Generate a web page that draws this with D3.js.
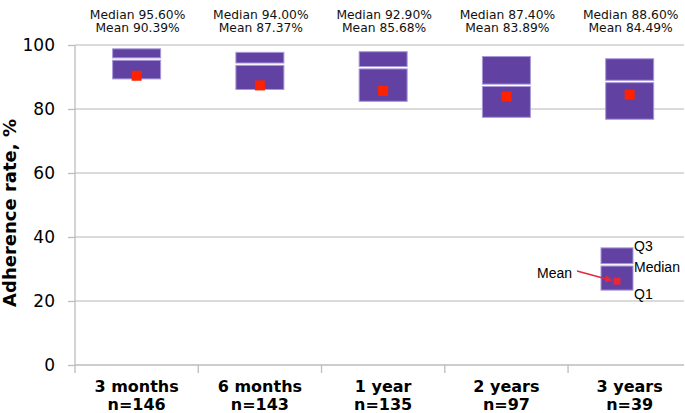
<!DOCTYPE html>
<html><head><meta charset="utf-8">
<script src="https://cdn.jsdelivr.net/npm/d3@7/dist/d3.min.js"></script>
<style>body{margin:0;background:#fff}svg{display:block}</style>
</head><body>
<svg id="c" width="685" height="413"></svg>
<script>
const categories = ["3 months", "6 months", "1 year", "2 years", "3 years"];
const counts = ["n=146", "n=143", "n=135", "n=97", "n=39"];
const q3 = [98.8, 97.7, 97.9, 96.4, 95.7];
const median = [95.6, 94.0, 92.9, 87.4, 88.6];
const mean = [90.39, 87.37, 85.68, 83.89, 84.49];
const q1 = [89.4, 86.1, 82.4, 77.4, 76.8];
const yTicks = [0, 20, 40, 60, 80, 100];
// legend sample box values
const legendBox = {q3: 36.6, median: 31.3, q1: 23.4, mean: 26.2};

const svg = d3.select("#c");
const x = d3.scaleBand().domain(categories).range([75, 691.3]).padding(0);
const y = d3.scaleLinear().domain([0, 100]).range([365, 45]);

const fill = "#6141a2", edge = "#a898d8", red = "#ff2200", grid = "#cfcfcf";

// gridlines
svg.append("g").selectAll("line").data(yTicks.filter(d => d > 0)).join("line")
  .attr("x1", 75).attr("x2", 684).attr("y1", d => y(d)).attr("y2", d => y(d))
  .attr("stroke", grid).attr("stroke-width", 1.6);

// y axis
const ya = svg.append("g").attr("transform", "translate(75,0)")
  .call(d3.axisLeft(y).tickValues(yTicks).tickSize(7).tickPadding(13));
ya.select(".domain").attr("stroke", "#bdbdbd").attr("stroke-width", 1.3).attr("d", "M0,365V45");
ya.selectAll(".tick line").attr("stroke", "#bdbdbd").attr("stroke-width", 1.3);
ya.selectAll(".tick text").attr("font-family", "DejaVu Sans").attr("font-size", 17).attr("fill", "#000");

// x axis
const xa = svg.append("g").attr("transform", "translate(0,365)")
  .call(d3.axisBottom(x).tickSize(0).tickFormat(""));
xa.select(".domain").attr("stroke", "#bdbdbd").attr("stroke-width", 1.3).attr("d", "M75,0H684");
const edges = categories.map(c => x(c));
svg.append("g").selectAll("line").data(edges).join("line")
  .attr("x1", d => d).attr("x2", d => d).attr("y1", 365).attr("y2", 373)
  .attr("stroke", "#bdbdbd").attr("stroke-width", 1.3);

const labels = svg.append("g").selectAll("text").data(categories).join("text")
  .attr("x", d => x(d) + x.bandwidth() / 2).attr("text-anchor", "middle")
  .attr("font-family", "DejaVu Sans").attr("font-weight", "bold").attr("font-size", 16);
labels.append("tspan").attr("x", d => x(d) + x.bandwidth() / 2).attr("y", 392).text(d => d);
labels.append("tspan").attr("x", d => x(d) + x.bandwidth() / 2).attr("y", 410).text((d, i) => counts[i]);

// y label
svg.append("text").attr("transform", "translate(16,213) rotate(-90)")
  .attr("text-anchor", "middle").attr("font-family", "DejaVu Sans").attr("font-weight", "bold")
  .attr("font-size", 18).text("Adherence rate, %");

// boxes
const bw = 48;
const data = categories.map((c, i) => ({c, q3: q3[i], med: median[i], mean: mean[i], q1: q1[i]}));
const g = svg.append("g");
data.forEach(d => {
  const cx = x(d.c) + x.bandwidth() / 2;
  g.append("rect").attr("x", cx - bw / 2).attr("y", y(d.q3)).attr("width", bw)
    .attr("height", y(d.med) - 1.2 - y(d.q3)).attr("fill", fill).attr("stroke", edge).attr("stroke-width", 1);
  g.append("rect").attr("x", cx - bw / 2).attr("y", y(d.med) + 1.2).attr("width", bw)
    .attr("height", y(d.q1) - y(d.med) - 1.2).attr("fill", fill).attr("stroke", edge).attr("stroke-width", 1);
  g.append("rect").attr("x", cx - 5).attr("y", y(d.mean) - 5).attr("width", 10).attr("height", 10).attr("fill", red);
  const t = g.append("text").attr("text-anchor", "middle").attr("font-family", "DejaVu Sans")
    .attr("font-size", 12.3).attr("fill", "#111");
  t.append("tspan").attr("x", cx + 1).attr("y", 19).text("Median " + d.med.toFixed(2) + "%");
  t.append("tspan").attr("x", cx + 1).attr("y", 31.5).text("Mean " + d.mean.toFixed(2) + "%");
});

// legend
const lx = 617, lw = 32;
const L = svg.append("g");
L.append("rect").attr("x", lx - lw / 2).attr("y", y(legendBox.q3)).attr("width", lw)
  .attr("height", y(legendBox.median) - 1.2 - y(legendBox.q3)).attr("fill", fill).attr("stroke", edge);
L.append("rect").attr("x", lx - lw / 2).attr("y", y(legendBox.median) + 1.2).attr("width", lw)
  .attr("height", y(legendBox.q1) - y(legendBox.median) - 1.2).attr("fill", fill).attr("stroke", edge);
L.append("rect").attr("x", lx - 3.5).attr("y", y(legendBox.mean) - 3.5).attr("width", 7).attr("height", 7).attr("fill", "#e8283a");
const lf = {"font-family": "Liberation Sans", "font-size": 14};
function ltext(tx, ty, s, anchor) {
  const t = L.append("text").attr("x", tx).attr("y", ty).attr("text-anchor", anchor || "start").text(s);
  Object.entries(lf).forEach(([k, v]) => t.attr(k, v));
}
ltext(634, 251, "Q3");
ltext(634, 272, "Median");
ltext(634, 299, "Q1");
ltext(572, 278, "Mean", "end");
svg.append("defs").append("marker").attr("id", "ah").attr("viewBox", "0 0 10 10")
  .attr("refX", 9).attr("refY", 5).attr("markerWidth", 5).attr("markerHeight", 5).attr("orient", "auto")
  .append("path").attr("d", "M0,0L10,5L0,10z").attr("fill", "#e8283a");
L.append("line").attr("x1", 577).attr("y1", 271).attr("x2", 612).attr("y2", 280.5)
  .attr("stroke", "#e8283a").attr("stroke-width", 1.5).attr("marker-end", "url(#ah)");
</script>
</body></html>
